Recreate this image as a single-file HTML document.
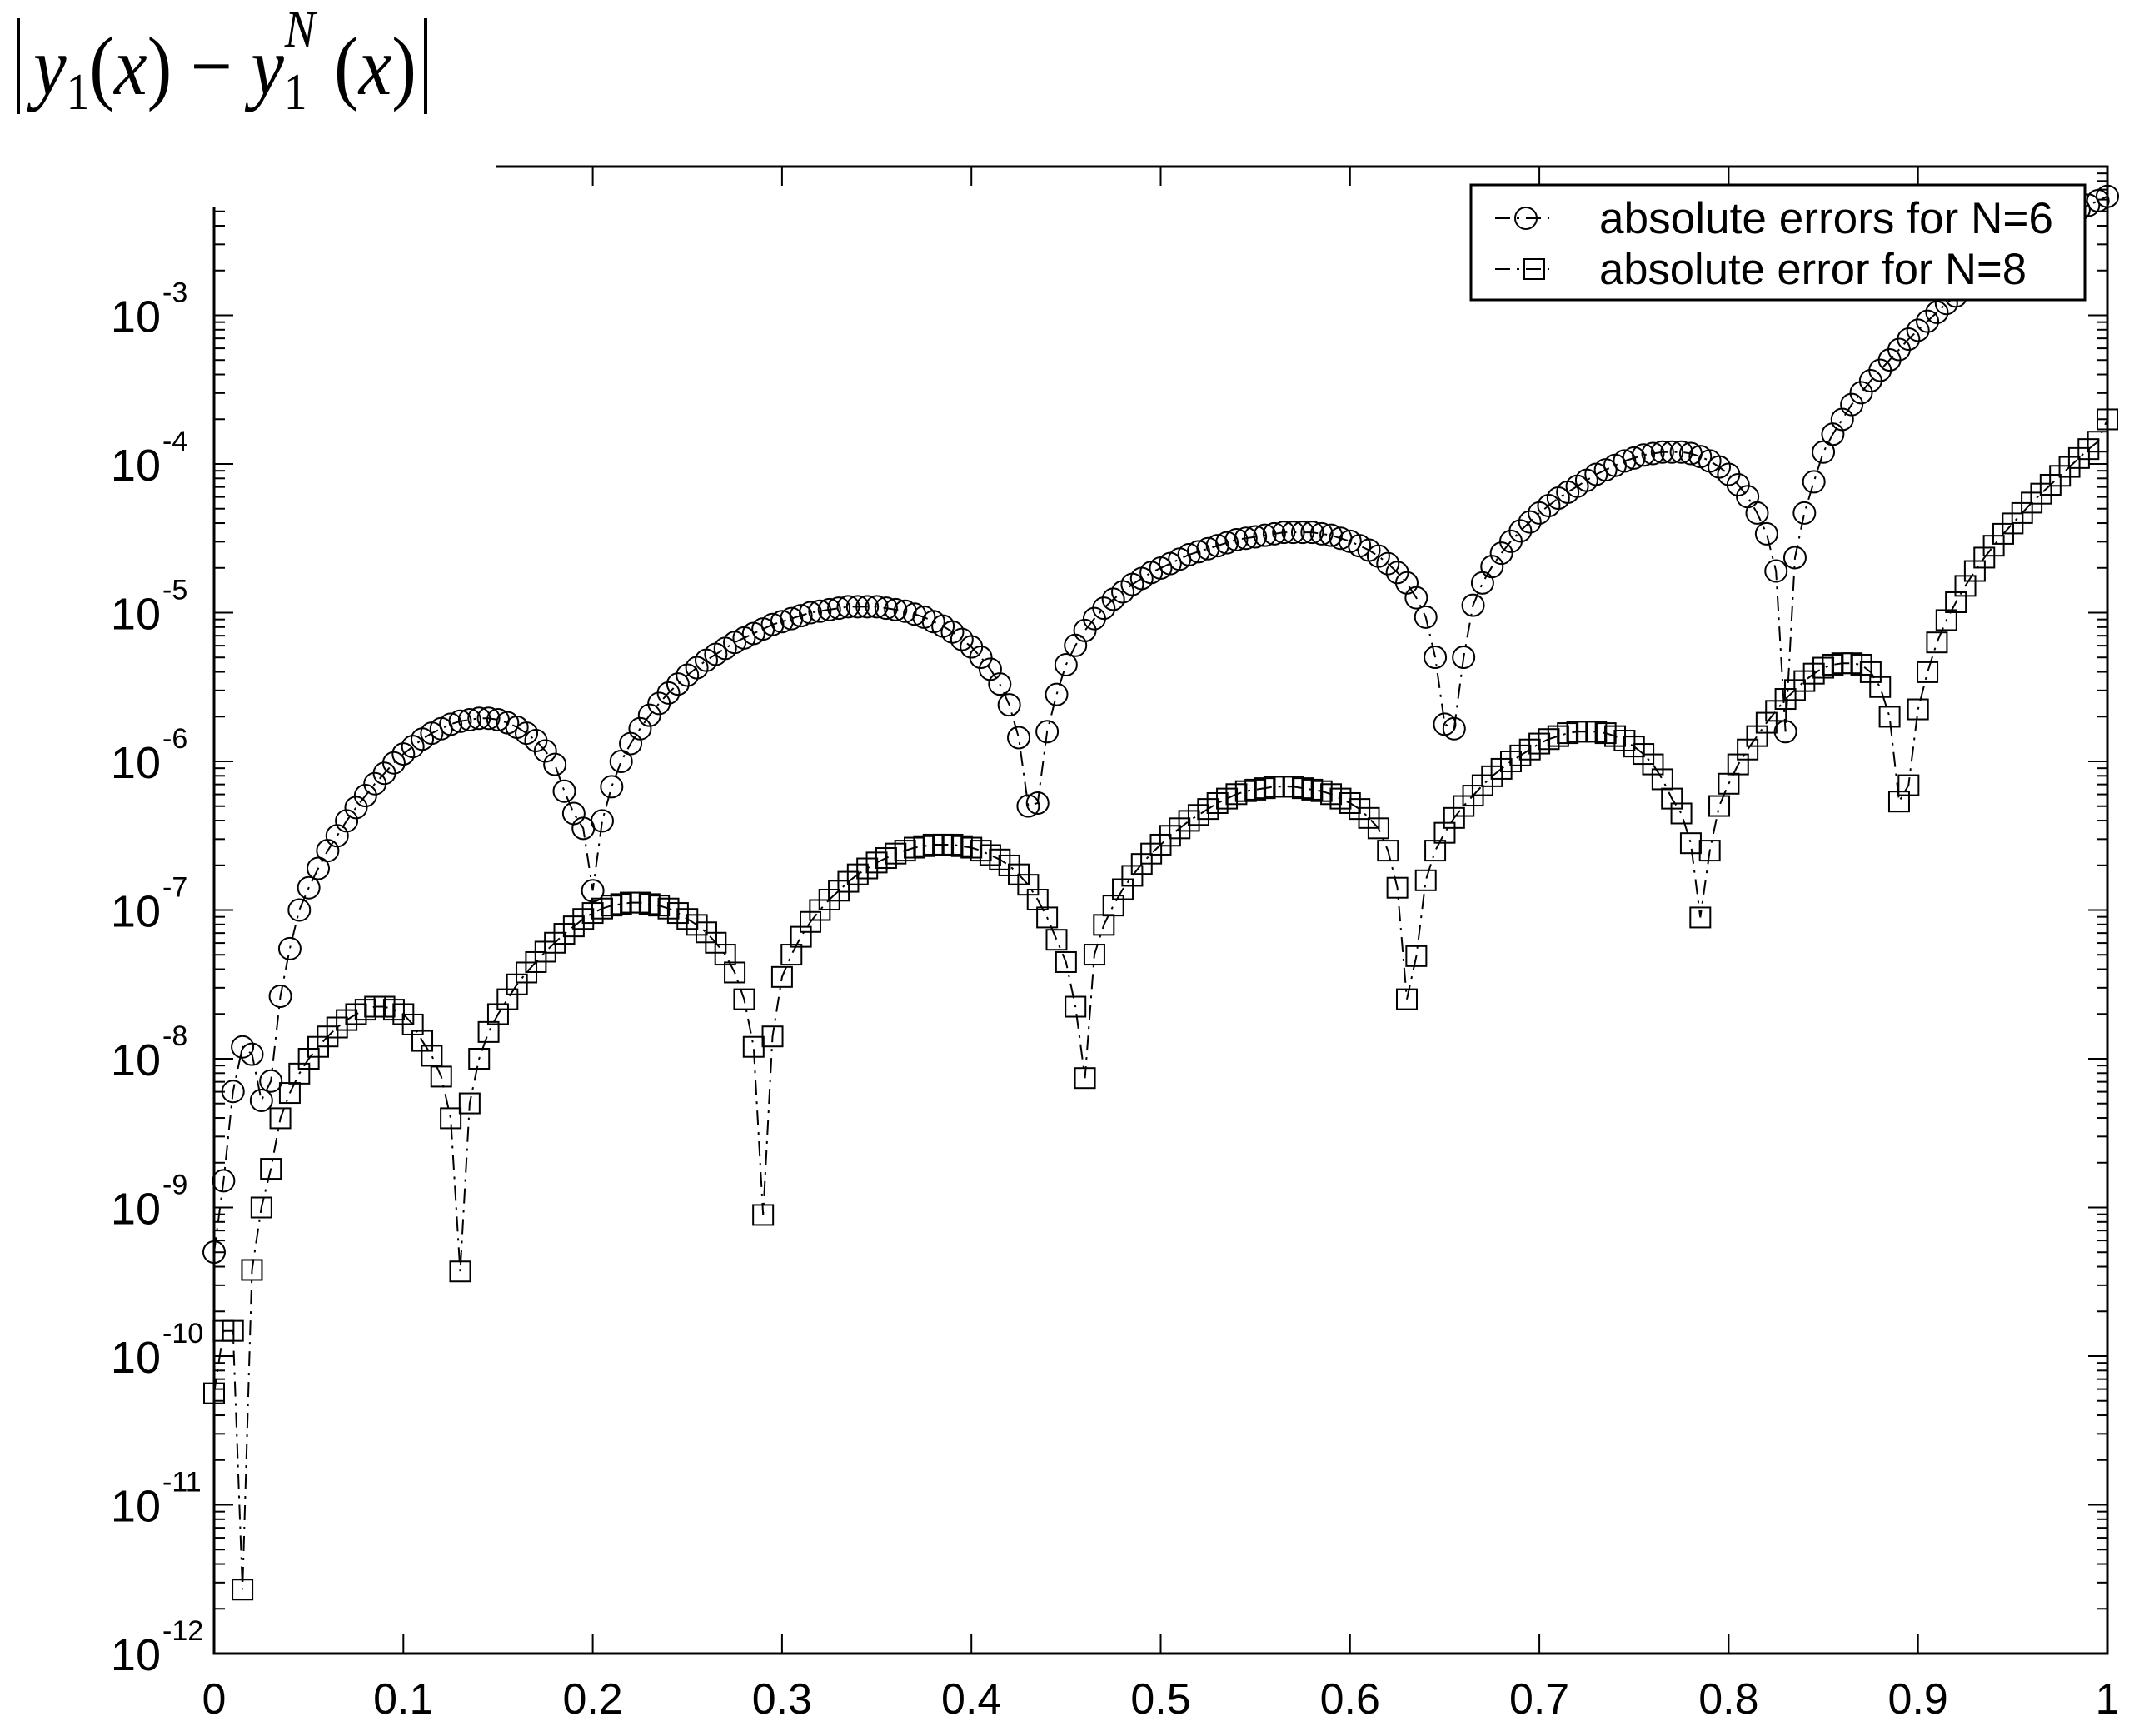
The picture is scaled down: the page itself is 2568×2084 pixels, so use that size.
<!DOCTYPE html>
<html><head><meta charset="utf-8"><style>
html,body{margin:0;padding:0;background:#fff}
svg{display:block}
</style></head><body>
<svg id="chart" width="2568" height="2084" viewBox="0 0 2568 2084" xmlns="http://www.w3.org/2000/svg">
<rect width="2568" height="2084" fill="#fff"/>
<g id="series"></g>
<g id="axes"></g>
<rect x="0" y="0" width="596" height="248" fill="#fff"/>
<text x="40" y="113" font-family="Liberation Serif, serif" font-size="100" textLength="460" lengthAdjust="spacingAndGlyphs"><tspan font-style="italic">y</tspan><tspan font-size="62" dy="18">1</tspan><tspan dy="-18">(</tspan><tspan font-style="italic">x</tspan><tspan>) − </tspan><tspan font-style="italic">y</tspan><tspan font-size="62" dy="18">1</tspan><tspan font-size="62" font-style="italic" dx="-30" dy="-75">N</tspan><tspan dy="57"> (</tspan><tspan font-style="italic">x</tspan><tspan>)</tspan></text>
<line x1="22" y1="22" x2="22" y2="137" stroke="#000" stroke-width="4"/>
<line x1="511" y1="22" x2="511" y2="137" stroke="#000" stroke-width="4"/>
<g>
<rect x="1766" y="222" width="737" height="138" fill="#fff" stroke="#000" stroke-width="3"/>
<g>
<line x1="1795" y1="262" x2="1860" y2="262" stroke="#000" stroke-width="2" stroke-dasharray="18,8,3,8"/>
<circle cx="1832" cy="262" r="13" fill="none" stroke="#000" stroke-width="2"/>
<text x="1920" y="280" font-family="Liberation Sans, sans-serif" font-size="53" textLength="545" lengthAdjust="spacingAndGlyphs">absolute errors for N=6</text>
</g>
<g>
<line x1="1795" y1="323" x2="1860" y2="323" stroke="#000" stroke-width="2" stroke-dasharray="18,8,3,8"/>
<rect x="1830" y="311" width="24" height="24" fill="none" stroke="#000" stroke-width="2"/>
<text x="1920" y="341" font-family="Liberation Sans, sans-serif" font-size="53" textLength="513" lengthAdjust="spacingAndGlyphs">absolute error for N=8</text>
</g>
</g>
</svg>
<script>
const xTicks=[0,0.1,0.2,0.3,0.4,0.5,0.6,0.7,0.8,0.9,1];
const xTickLabels=["0","0.1","0.2","0.3","0.4","0.5","0.6","0.7","0.8","0.9","1"];
const yDecades=[-12,-11,-10,-9,-8,-7,-6,-5,-4,-3];
const xStep=0.005;
const logErrN6=[
-9.3,-8.82,-8.22,-7.92,-7.97,-8.28,-8.15,-7.58,-7.26,-7.0,
-6.85,-6.72,-6.6,-6.5,-6.4,-6.31,-6.23,-6.15,-6.08,-6.01,
-5.95,-5.9,-5.85,-5.81,-5.78,-5.75,-5.73,-5.72,-5.71,-5.71,
-5.72,-5.74,-5.77,-5.81,-5.86,-5.93,-6.02,-6.2,-6.35,-6.45,
-6.87,-6.4,-6.17,-6.0,-5.88,-5.78,-5.69,-5.61,-5.54,-5.48,
-5.42,-5.37,-5.32,-5.28,-5.24,-5.2,-5.17,-5.14,-5.11,-5.08,
-5.06,-5.04,-5.02,-5.0,-4.99,-4.98,-4.97,-4.96,-4.96,-4.96,
-4.96,-4.97,-4.98,-4.99,-5.01,-5.03,-5.06,-5.09,-5.13,-5.18,
-5.23,-5.3,-5.38,-5.48,-5.62,-5.84,-6.3,-6.28,-5.8,-5.55,
-5.35,-5.22,-5.12,-5.04,-4.97,-4.91,-4.86,-4.81,-4.77,-4.73,
-4.7,-4.67,-4.64,-4.61,-4.59,-4.57,-4.55,-4.53,-4.51,-4.5,
-4.49,-4.48,-4.47,-4.46,-4.46,-4.46,-4.46,-4.47,-4.48,-4.5,
-4.52,-4.55,-4.58,-4.62,-4.67,-4.73,-4.8,-4.9,-5.03,-5.3,
-5.75,-5.78,-5.3,-4.95,-4.8,-4.69,-4.6,-4.52,-4.45,-4.39,
-4.33,-4.28,-4.23,-4.19,-4.15,-4.11,-4.07,-4.04,-4.01,-3.98,
-3.96,-3.94,-3.93,-3.92,-3.92,-3.92,-3.93,-3.95,-3.98,-4.02,
-4.07,-4.14,-4.22,-4.33,-4.47,-4.72,-5.8,-4.63,-4.33,-4.12,
-3.92,-3.8,-3.7,-3.6,-3.52,-3.44,-3.37,-3.3,-3.23,-3.16,
-3.1,-3.04,-2.98,-2.92,-2.87,-2.82,-2.77,-2.72,-2.67,-2.62,
-2.58,-2.53,-2.49,-2.45,-2.41,-2.37,-2.33,-2.29,-2.26,-2.23,
-2.2];
const logErrN8=[
-10.25,-9.83,-9.83,-11.57,-9.42,-9.0,-8.74,-8.4,-8.23,-8.1,
-8.0,-7.92,-7.85,-7.79,-7.74,-7.7,-7.67,-7.65,-7.65,-7.67,
-7.7,-7.77,-7.88,-7.98,-8.12,-8.4,-9.43,-8.3,-8.0,-7.82,
-7.7,-7.6,-7.5,-7.42,-7.35,-7.28,-7.22,-7.16,-7.11,-7.06,
-7.02,-6.99,-6.97,-6.96,-6.95,-6.95,-6.96,-6.97,-6.99,-7.02,
-7.06,-7.1,-7.15,-7.22,-7.3,-7.42,-7.6,-7.92,-9.05,-7.85,
-7.45,-7.3,-7.18,-7.08,-7.0,-6.93,-6.87,-6.81,-6.76,-6.72,
-6.68,-6.65,-6.62,-6.6,-6.58,-6.57,-6.56,-6.56,-6.56,-6.57,
-6.58,-6.6,-6.63,-6.66,-6.7,-6.76,-6.83,-6.93,-7.05,-7.2,
-7.35,-7.65,-8.13,-7.3,-7.1,-6.97,-6.86,-6.77,-6.69,-6.62,
-6.56,-6.5,-6.45,-6.4,-6.36,-6.32,-6.28,-6.25,-6.22,-6.2,
-6.19,-6.18,-6.17,-6.17,-6.17,-6.18,-6.19,-6.2,-6.22,-6.25,
-6.28,-6.32,-6.38,-6.45,-6.6,-6.85,-7.6,-7.31,-6.8,-6.6,
-6.48,-6.38,-6.3,-6.23,-6.16,-6.1,-6.05,-6.0,-5.96,-5.92,
-5.88,-5.85,-5.83,-5.81,-5.8,-5.8,-5.8,-5.81,-5.83,-5.86,
-5.9,-5.95,-6.02,-6.12,-6.25,-6.35,-6.55,-7.05,-6.6,-6.3,
-6.15,-6.02,-5.92,-5.83,-5.74,-5.66,-5.58,-5.52,-5.46,-5.41,
-5.37,-5.35,-5.34,-5.34,-5.35,-5.4,-5.5,-5.7,-6.27,-6.16,
-5.65,-5.4,-5.2,-5.05,-4.93,-4.82,-4.72,-4.63,-4.55,-4.47,
-4.4,-4.33,-4.26,-4.2,-4.14,-4.08,-4.02,-3.96,-3.9,-3.85,
-3.7];

const NS="http://www.w3.org/2000/svg";
const L=257,R=2530,T=200,B=1985;
const X=v=>L+v*(R-L);
const Y=lg=>B-(lg+12)*(B-T)/10;
function mk(tag,attrs,parent){const e=document.createElementNS(NS,tag);for(const k in attrs)e.setAttribute(k,attrs[k]);parent.appendChild(e);return e;}
const axes=document.getElementById('axes');
const series=document.getElementById('series');

let fr=mk('rect',{x:L,y:T,width:R-L,height:B-T,fill:'none',stroke:'#000','stroke-width':3},axes);



xTicks.forEach((t,i)=>{
  const x=X(t);
  mk('line',{x1:x,y1:B,x2:x,y2:B-23,stroke:'#000','stroke-width':2},axes);
  mk('line',{x1:x,y1:T,x2:x,y2:T+23,stroke:'#000','stroke-width':2},axes);
  const tx=mk('text',{x:x,y:2057,'text-anchor':'middle','font-family':'Liberation Sans, sans-serif','font-size':52},axes);
  tx.textContent=xTickLabels[i];
  
  
});
for(let d=-12;d<-2;d++){
  const y=Y(d);
  mk('line',{x1:L,y1:y,x2:L+23,y2:y,stroke:'#000','stroke-width':2},axes);
  mk('line',{x1:R,y1:y,x2:R-23,y2:y,stroke:'#000','stroke-width':2},axes);
  for(let m=2;m<=9;m++){
    const ym=Y(d+Math.log10(m));
    mk('line',{x1:L,y1:ym,x2:L+13,y2:ym,stroke:'#000','stroke-width':2},axes);
    mk('line',{x1:R,y1:ym,x2:R-13,y2:ym,stroke:'#000','stroke-width':2},axes);
  }
}
yDecades.forEach(d=>{
  const y=Y(d);
  const tx=mk('text',{x:193,y:y+20,'text-anchor':'end','font-family':'Liberation Sans, sans-serif','font-size':54},axes);
  tx.textContent='10';
  
  
  const sp=mk('text',{x:195,y:y-16,'font-family':'Liberation Sans, sans-serif','font-size':34},axes);
  sp.textContent=String(d);
  
  
});

function drawSeries(vals,kind,name){
  const g=mk('g',{},series);
  
  
  const pts=vals.map((v,i)=>X(i*xStep).toFixed(1)+','+Y(v).toFixed(1)).join(' ');
  const pl=mk('polyline',{points:pts,fill:'none',stroke:'#000','stroke-width':2,'stroke-dasharray':'18,8,3,8'},g);
  
  
  vals.forEach((v,i)=>{
    const cx=X(i*xStep),cy=Y(v);
    let m;
    if(kind==='circle') m=mk('circle',{cx:cx,cy:cy,r:13,fill:'none',stroke:'#000','stroke-width':2},g);
    else m=mk('rect',{x:cx-12,y:cy-12,width:24,height:24,fill:'none',stroke:'#000','stroke-width':2},g);
    
    
  });
}
drawSeries(logErrN6,'circle','series-n6');
drawSeries(logErrN8,'square','series-n8');
</script>
</body></html>
